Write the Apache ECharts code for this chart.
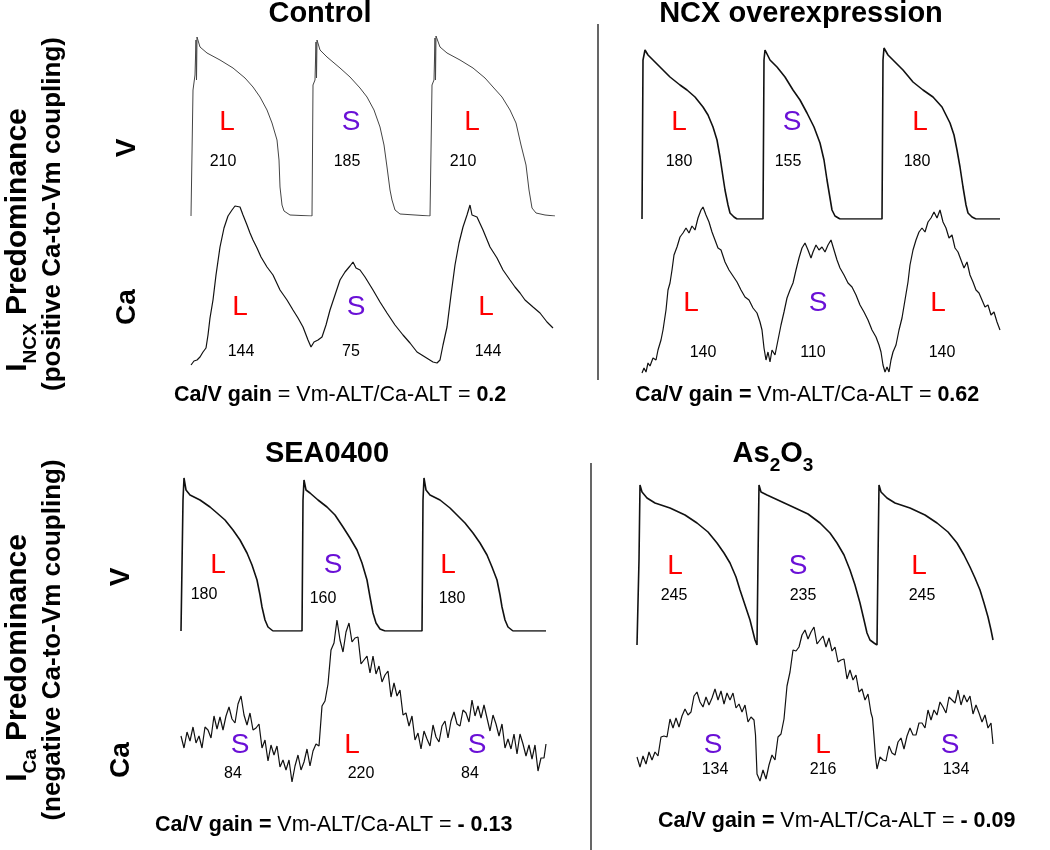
<!DOCTYPE html>
<html>
<head>
<meta charset="utf-8">
<title>Ca/V gain</title>
<script src="https://cdn.jsdelivr.net/npm/echarts@6/dist/echarts.min.js"></script>
<style>
html,body{margin:0;padding:0;background:#fff;}
#main{width:1050px;height:850px;}
</style>
</head>
<body>
<div id="main"></div>
<script>
// traces: [time (ms), amplitude (a.u., 0 = diastolic level)]
var ctrlV = [[0,0],[2,0],[4,126],[8,141],[10,176],[11,136],[12,179],[18,169],[32,163],[58,156],[84,148],[108,138],[124,129],[138,119],[152,106],[162,93],[172,76],[176,56],[178,29],[182,11],[186,5],[198,1],[242,0],
  [244,131],[248,136],[250,174],[251,138],[252,176],[258,166],[272,159],[298,148],[318,139],[338,128],[352,119],[366,106],[378,89],[386,71],[392,49],[398,26],[402,16],[408,6],[418,2],[478,0],
  [480,0],[482,131],[486,136],[488,178],[489,136],[490,180],[498,169],[512,163],[538,156],[564,148],[588,138],[604,129],[622,119],[638,106],[650,93],[660,71],[670,51],[676,26],[682,8],[690,3],[708,1],[728,0]];
var ctrlCa = [[0,5],[6,9],[12,10],[18,13],[24,18],[30,22],[34,35],[38,52],[44,70],[50,95],[58,123],[66,142],[74,154],[82,160],[88,164],[92,162],[98,163],[104,155],[112,145],[118,137],[124,130],[132,122],[140,113],[152,103],[164,95],[178,80],[192,70],[204,60],[214,52],[224,43],[234,30],[240,23],[246,28],[254,30],[262,33],[270,45],[278,60],[288,75],[298,90],[308,98],[318,104],[324,108],[330,102],[338,100],[348,93],[364,80],[378,68],[392,57],[408,45],[424,35],[438,27],[452,18],[468,13],[484,8],[492,7],[498,10],[504,25],[512,43],[520,75],[528,105],[536,127],[544,143],[552,155],[558,165],[562,155],[572,153],[584,140],[598,123],[612,112],[624,100],[638,90],[648,83],[658,77],[668,70],[684,63],[698,57],[712,48],[724,42]];

var ncxV = [[0,0],[2,159],[6,169],[8,171],[12,164],[22,159],[36,152],[56,142],[76,134],[90,129],[106,122],[122,112],[132,104],[142,92],[150,79],[156,62],[162,42],[166,29],[172,14],[176,6],[184,2],[190,0],[242,0],
  [244,159],[246,169],[248,170],[256,159],[270,152],[286,142],[302,129],[316,119],[330,106],[344,92],[356,76],[364,59],[370,39],[376,21],[380,9],[386,3],[396,0],[480,0],
  [482,159],[484,171],[486,172],[492,164],[502,159],[522,149],[542,137],[562,129],[582,122],[600,112],[616,96],[624,84],[630,69],[636,52],[642,32],[648,14],[652,6],[660,2],[668,0],[716,0]];
var ncxCa = [[0,7],[4,12],[8,8],[12,17],[16,14],[22,22],[28,20],[32,30],[38,40],[42,50],[48,70],[52,90],[56,97],[60,110],[64,125],[70,133],[76,143],[82,147],[88,152],[94,147],[100,154],[106,150],[112,162],[118,170],[122,173],[128,165],[134,158],[140,148],[146,140],[152,132],[158,130],[166,118],[174,110],[182,104],[190,98],[198,90],[206,83],[214,80],[222,72],[230,67],[236,58],[240,50],[244,32],[248,20],[252,28],[256,18],[260,30],[266,25],[272,40],[278,55],[284,68],[290,82],[296,90],[302,97],[308,110],[314,122],[320,132],[326,137],[332,130],[338,122],[342,128],[348,135],[354,130],[360,133],[366,128],[372,135],[378,140],[384,130],[390,120],[396,112],[404,105],[412,97],[420,93],[428,85],[436,75],[444,68],[452,60],[460,50],[468,43],[474,35],[478,28],[482,15],[486,8],[490,13],[494,8],[498,20],[502,28],[508,35],[514,50],[520,62],[526,80],[532,98],[536,115],[542,130],[548,140],[554,148],[560,152],[566,148],[572,158],[578,162],[584,168],[590,162],[596,170],[602,158],[608,152],[614,142],[620,145],[626,132],[632,128],[638,120],[644,112],[650,118],[656,105],[662,98],[668,90],[674,87],[680,80],[686,73],[692,75],[698,65],[704,68],[710,58],[716,50]];

var seaV = [[0,0],[2,0],[4,131],[6,153],[10,141],[18,136],[38,131],[58,124],[72,118],[88,111],[104,101],[118,91],[132,78],[142,66],[152,51],[158,36],[162,24],[168,11],[174,4],[184,0],[242,0],
  [244,131],[246,151],[250,141],[258,138],[274,131],[292,124],[308,116],[324,104],[338,93],[352,81],[362,68],[372,51],[378,34],[384,18],[390,8],[398,2],[408,0],[482,0],
  [484,131],[486,153],[490,141],[498,136],[518,131],[538,123],[552,116],[568,108],[584,98],[598,88],[612,76],[622,64],[632,51],[638,36],[642,24],[648,11],[654,4],[664,0],[730,0]];
var seaCa = [[0,54],[6,42],[12,58],[18,49],[24,63],[30,47],[36,54],[42,42],[48,63],[54,60],[60,52],[66,74],[72,61],[78,73],[84,60],[90,74],[96,83],[102,71],[108,67],[114,86],[120,94],[126,75],[132,65],[138,77],[144,60],[150,62],[156,66],[162,42],[168,50],[174,29],[180,45],[186,35],[192,44],[198,23],[204,30],[210,20],[216,30],[222,8],[228,24],[234,35],[240,20],[246,28],[252,41],[258,24],[264,39],[270,46],[276,44],[282,84],[288,89],[294,106],[300,140],[306,147],[312,170],[318,150],[324,138],[330,158],[336,167],[342,148],[348,152],[354,153],[360,126],[366,130],[372,134],[378,117],[384,134],[390,116],[396,124],[402,108],[408,115],[414,119],[420,93],[426,107],[432,94],[438,100],[444,75],[450,77],[456,64],[462,74],[468,50],[474,57],[480,41],[486,59],[492,51],[498,44],[504,65],[510,53],[516,48],[522,64],[528,69],[534,52],[540,69],[546,78],[552,66],[558,64],[564,80],[570,77],[576,68],[582,90],[588,74],[594,84],[600,72],[606,85],[612,72],[618,59],[624,75],[630,66],[636,54],[642,66],[648,42],[654,51],[660,41],[666,56],[672,36],[678,56],[684,46],[690,34],[696,45],[702,31],[708,45],[714,19],[720,32],[726,32],[730,46]];

var asV = [[0,0],[2,0],[4,85],[6,160],[10,153],[20,147],[36,142],[66,137],[96,130],[120,122],[142,113],[160,102],[174,92],[186,82],[198,68],[206,55],[216,40],[226,25],[232,13],[236,5],[240,0],
  [242,85],[244,160],[248,153],[260,150],[286,144],[312,138],[342,131],[366,122],[386,112],[400,102],[414,90],[426,75],[436,60],[446,42],[454,25],[460,12],[466,5],[474,2],[480,0],
  [482,85],[484,160],[488,153],[500,147],[516,142],[546,137],[576,130],[600,122],[622,113],[640,102],[654,90],[666,78],[676,67],[686,55],[694,42],[702,28],[708,15],[712,5]];
var asCa = [[0,33],[6,23],[12,34],[18,26],[24,38],[30,30],[36,38],[42,34],[48,53],[54,54],[60,53],[66,71],[72,62],[78,72],[84,63],[90,74],[96,81],[102,75],[108,78],[114,94],[120,98],[126,88],[132,83],[138,93],[144,85],[150,92],[156,101],[162,90],[168,99],[174,86],[180,97],[186,90],[192,97],[198,82],[204,86],[210,78],[216,85],[222,68],[228,73],[234,70],[237,55],[240,16],[246,9],[252,20],[258,11],[264,25],[270,35],[276,30],[282,53],[288,56],[294,71],[300,104],[306,118],[312,140],[318,139],[324,143],[330,155],[336,160],[342,151],[348,158],[354,163],[360,146],[366,150],[372,154],[378,143],[384,152],[390,139],[396,143],[402,128],[408,130],[414,131],[420,111],[426,120],[432,110],[438,115],[444,98],[450,101],[456,90],[462,96],[468,77],[471,72],[474,53],[477,33],[480,21],[486,33],[492,30],[498,29],[504,44],[510,37],[516,35],[522,48],[528,52],[534,41],[540,54],[546,62],[552,55],[558,55],[564,67],[570,67],[576,62],[582,80],[588,70],[594,80],[600,75],[606,88],[612,83],[618,77],[624,93],[630,90],[636,87],[642,100],[648,85],[654,95],[660,88],[666,94],[672,76],[678,85],[684,77],[690,68],[696,75],[702,62],[708,67],[712,46]];

// annotation values
var titles = ['Control', 'NCX overexpression', 'SEA0400', '{t|As}{s|2}{t|O}{s|3}'];
var vPhase = [['L','S','L'], ['L','S','L'], ['L','S','L'], ['L','S','L']];
var apd = [[210,185,210], [180,155,180], [180,160,180], [245,235,245]];
var caPhase = [['L','S','L'], ['L','S','L'], ['S','L','S'], ['S','L','S']];
var caAmp = [[144,75,144], [140,110,140], [84,220,84], [134,216,134]];
var gains = ['0.2', '0.62', '- 0.13', '- 0.09'];

var FONT = 'Liberation Sans, Arial, Helvetica, sans-serif';
var MS_PER_PX = 2;

// layout of the four panels (pixels)
var panels = [
  {v: ctrlV, ca: ctrlCa, left: 191, tMax: 728, vBase: 216, vMax: 190, caBase: 370, caMax: 170, vColor: '#444', vWidth: 1,
   title: [320, 14], vLab: [[227,122],[351,122],[472,122]], vNum: [[223,162],[347,162],[463,162]],
   caLab: [[240,307],[356,307],[486,307]], caNum: [[241,352],[351,352],[488,352]], gain: [174, 395], boldEq: false},
  {v: ncxV, ca: ncxCa, left: 642, tMax: 716, vBase: 219, vMax: 190, caBase: 380, caMax: 190, vColor: '#111', vWidth: 1.6,
   title: [801, 14], vLab: [[679,122],[792,122],[920,122]], vNum: [[679,162],[788,162],[917,162]],
   caLab: [[691,303],[818,303],[938,303]], caNum: [[703,353],[813,353],[942,353]], gain: [635, 395], boldEq: true},
  {v: seaV, ca: seaCa, left: 181, tMax: 730, vBase: 631, vMax: 170, caBase: 790, caMax: 180, vColor: '#111', vWidth: 1.6,
   title: [327, 454], vLab: [[218,565],[333,565],[448,565]], vNum: [[204,595],[323,599],[452,599]],
   caLab: [[240,745],[352,745],[477,745]], caNum: [[233,774],[361,774],[470,774]], gain: [155, 825], boldEq: true},
  {v: asV, ca: asCa, left: 637, tMax: 712, vBase: 645, vMax: 170, caBase: 790, caMax: 180, vColor: '#111', vWidth: 1.6,
   title: [773, 455], vLab: [[675,566],[798,566],[919,566]], vNum: [[674,596],[803,596],[922,596]],
   caLab: [[713,745],[823,745],[950,745]], caNum: [[715,770],[823,770],[956,770]], gain: [658, 821], boldEq: true}
];

var grids = [], xAxes = [], yAxes = [], series = [], graphics = [];

function addTrace(data, left, base, tMax, yMax, color, width) {
  var i = grids.length;
  grids.push({left: left, top: base - yMax, width: tMax / MS_PER_PX, height: yMax});
  xAxes.push({type: 'value', gridIndex: i, min: 0, max: tMax, show: false});
  yAxes.push({type: 'value', gridIndex: i, min: 0, max: yMax, show: false});
  series.push({
    type: 'line', xAxisIndex: i, yAxisIndex: i, data: data,
    showSymbol: false, silent: true,
    lineStyle: {color: color, width: width}
  });
}

function txt(x, y, text, size, color, weight, rot, align) {
  graphics.push({
    type: 'text', x: x, y: y, rotation: rot || 0, silent: true,
    style: {text: text, fill: color || '#000', align: align || 'center', verticalAlign: 'middle',
      font: (weight || 'normal') + ' ' + size + 'px ' + FONT}
  });
}

function phaseColor(p) { return p === 'L' ? '#ff0000' : '#6a10d6'; }

panels.forEach(function (p, k) {
  addTrace(p.v, p.left, p.vBase, p.tMax, p.vMax, p.vColor, p.vWidth);
  addTrace(p.ca, p.left, p.caBase, p.tMax, p.caMax, '#111', 1.2);

  graphics.push({
    type: 'text', x: p.title[0], y: p.title[1], silent: true,
    style: {text: titles[k], align: 'center', verticalAlign: 'middle', fill: '#000',
      font: 'bold 29px ' + FONT,
      rich: {
        t: {fontSize: 29, fontWeight: 'bold', fontFamily: FONT, lineHeight: 32, verticalAlign: 'top'},
        s: {fontSize: 19, fontWeight: 'bold', fontFamily: FONT, lineHeight: 19, verticalAlign: 'top', padding: [17, 0, 0, 0]}
      }}
  });

  for (var j = 0; j < 3; j++) {
    txt(p.vLab[j][0], p.vLab[j][1], vPhase[k][j], 28, phaseColor(vPhase[k][j]));
    txt(p.vNum[j][0], p.vNum[j][1], String(apd[k][j]), 16, '#000');
    txt(p.caLab[j][0], p.caLab[j][1], caPhase[k][j], 28, phaseColor(caPhase[k][j]));
    txt(p.caNum[j][0], p.caNum[j][1], String(caAmp[k][j]), 16, '#000');
  }

  var g = p.boldEq ? '{b|Ca/V gain =} {n|Vm-ALT/Ca-ALT =} {b|' + gains[k] + '}'
                   : '{b|Ca/V gain} {n|= Vm-ALT/Ca-ALT =} {b|' + gains[k] + '}';
  graphics.push({
    type: 'text', x: p.gain[0], y: p.gain[1], silent: true,
    style: {text: g, align: 'left', verticalAlign: 'middle', fill: '#000',
      font: '21px ' + FONT,
      rich: {
        b: {fontSize: 21.5, fontWeight: 'bold', fontFamily: FONT},
        n: {fontSize: 21.5, fontWeight: 'normal', fontFamily: FONT}
      }}
  });
});

// row labels
txt(127, 148, 'V', 28, '#000', 'bold', Math.PI / 2);
txt(127, 307, 'Ca', 28, '#000', 'bold', Math.PI / 2);
txt(121, 577, 'V', 28, '#000', 'bold', Math.PI / 2);
txt(121, 760, 'Ca', 28, '#000', 'bold', Math.PI / 2);

function sideLabel(x, y, sub) {
  graphics.push({
    type: 'text', x: x, y: y, rotation: Math.PI / 2, silent: true,
    style: {text: '{m|I}{s|' + sub + '}{m| Predominance}', align: 'center', verticalAlign: 'middle', fill: '#000',
      font: 'bold 30px ' + FONT,
      rich: {
        m: {fontSize: 30, fontWeight: 'bold', fontFamily: FONT, lineHeight: 34, verticalAlign: 'top'},
        s: {fontSize: 19, fontWeight: 'bold', fontFamily: FONT, lineHeight: 19, verticalAlign: 'top', padding: [18, 0, 0, 0]}
      }}
  });
}
sideLabel(20, 240, 'NCX');
txt(53, 214, '(positive Ca-to-Vm coupling)', 26, '#000', 'bold', Math.PI / 2);
sideLabel(20, 658, 'Ca');
txt(53, 640, '(negative Ca-to-Vm coupling)', 26, '#000', 'bold', Math.PI / 2);

// panel dividers
graphics.push({type: 'line', silent: true, shape: {x1: 598, y1: 24, x2: 598, y2: 380}, style: {stroke: '#000', lineWidth: 1.2}});
graphics.push({type: 'line', silent: true, shape: {x1: 591, y1: 463, x2: 591, y2: 850}, style: {stroke: '#000', lineWidth: 1.2}});

var myChart = echarts.init(document.getElementById('main'));
var option = {
  backgroundColor: '#fff',
  animation: false,
  grid: grids,
  xAxis: xAxes,
  yAxis: yAxes,
  series: series,
  graphic: graphics
};
myChart.setOption(option);
</script>
</body>
</html>
